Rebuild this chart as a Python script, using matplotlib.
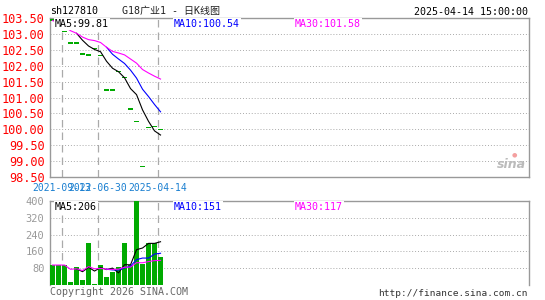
import numpy as np
from matplotlib import pyplot as plt

# daily K-line for sh127810
closes = [103.42, 103.25, 103.05, 102.68, 102.68, 102.34, 102.29, 102.52, 102.30, 101.21,
          101.21, 101.79, 101.60, 100.61, 100.22, 98.81, 100.03, 100.06, 99.97]
opens = [103.42, 103.25, 103.05, 102.68, 102.68, 102.34, 102.38, 102.52, 102.30, 101.21,
         101.21, 101.79, 101.60, 100.61, 100.22, 98.81, 100.03, 100.06, 99.97]
ma5 = [None, None, None, None, 103.02, 102.80, 102.62, 102.51, 102.44, 102.14,
       101.92, 101.81, 101.62, 101.28, 101.09, 100.61, 100.25, 99.95, 99.82]
ma10 = [None] * 9 + [102.58, 102.36, 102.21, 102.07, 101.86, 101.61, 101.26, 101.03, 100.78, 100.55]
ma30 = [103.42, 103.34, 103.24, 103.10, 103.02, 102.90, 102.82, 102.79, 102.73, 102.58,
        102.45, 102.40, 102.34, 102.21, 102.08, 101.88, 101.77, 101.67, 101.58]

volumes = [95, 95, 95, 14, 88, 25, 200, 5, 97, 40, 60, 88, 198, 95, 400, 100, 198, 198, 134]
vol_ma5 = [None, None, None, None, 77.4, 63.4, 84.4, 66.4, 83.0, 73.4,
           80.4, 58.0, 96.6, 96.2, 168.2, 176.2, 198.2, 198.2, 206.0]
vol_ma10 = [None] * 9 + [75.4, 71.9, 71.2, 81.5, 89.6, 120.8, 128.3, 128.1, 147.4, 151.1]
vol_ma30 = [95, 95, 95, 74.8, 77.4, 68.7, 87.4, 77.1, 79.3, 75.4,
            74.0, 75.2, 84.6, 85.4, 106.3, 105.9, 111.4, 116.2, 117.1]

date_idx = [2, 8, 18]
date_labels = ['2021-09-13', '2022-06-30', '2025-04-14']
price_ticks = [98.5, 99.0, 99.5, 100.0, 100.5, 101.0, 101.5, 102.0, 102.5, 103.0, 103.5]
vol_ticks = [80, 160, 240, 320, 400]

W, H = 545, 300
GREEN = '#00aa00'
GRID = '#aaaaaa'
MONO = 'DejaVu Sans Mono'


def box(l, t, r, b):
    return [l / W, 1 - b / H, (r - l) / W, (b - t) / H]


def fig_xy(x, y):
    return x / W, 1 - y / H


fig = plt.figure(figsize=(W / 100, H / 100), dpi=100)
ax = fig.add_axes(box(50, 18, 529, 177))
axv = fig.add_axes(box(50, 201, 529, 285))

x = np.arange(len(closes))
xlim = (-0.42, 79.4)

# price panel
lo = np.minimum(opens, closes)
hi = np.maximum(opens, closes)
ax.bar(x, np.maximum(hi - lo, 0.05), bottom=lo, width=0.8, color=GREEN, zorder=3)


def line(a, vals, color):
    v = np.array([np.nan if q is None else q for q in vals], dtype=float)
    a.plot(x, v, color=color, lw=0.8, zorder=4)


line(ax, ma5, 'black')
line(ax, ma10, '#0000ff')
line(ax, ma30, '#ff00ff')

ax.set_xlim(*xlim)
ax.set_ylim(98.5, 103.5)
ax.set_yticks(price_ticks)
ax.set_yticklabels(['%.2f' % t for t in price_ticks], color='red', fontfamily=MONO, fontsize=8.6)
for t in price_ticks[1:-1]:
    ax.axhline(t, color=GRID, ls=(0, (1, 2)), lw=0.7, zorder=1)
for i in date_idx:
    ax.axvline(i - 0.4, color=GRID, ls=(0, (6, 4)), lw=0.9, zorder=1)
    axv.axvline(i - 0.4, color=GRID, ls=(0, (6, 4)), lw=0.9, zorder=1)
ax.set_xticks([i - 0.4 for i in date_idx])
ax.set_xticklabels(date_labels, color='#1a7fd0', fontfamily=MONO, fontsize=7)
ax.tick_params(length=0, pad=4)

# volume panel
axv.bar(x, volumes, width=0.8, color=GREEN, zorder=3)
line(axv, vol_ma5, 'black')
line(axv, vol_ma10, '#0000ff')
line(axv, vol_ma30, '#ff00ff')
axv.set_xlim(*xlim)
axv.set_ylim(0, 400)
axv.set_yticks(vol_ticks)
axv.set_yticklabels([str(t) for t in vol_ticks], color='#999999', fontfamily=MONO, fontsize=7.5)
for t in vol_ticks[:-1]:
    axv.axhline(t, color=GRID, ls=(0, (1, 2)), lw=0.7, zorder=1)
axv.set_xticks([])
axv.tick_params(length=0, pad=4)

for a in (ax, axv):
    for s in a.spines.values():
        s.set_color('#999999')
        s.set_linewidth(1)
axv.spines['bottom'].set_visible(False)

# header texts
fig.text(*fig_xy(50, 11), 'sh127810', fontfamily=MONO, fontsize=7.2, va='center', color='black')
fig.text(*fig_xy(122, 11), 'G18广业1 - 日K线图', family=[MONO, 'Noto Sans CJK SC'],
         fontsize=7.2, va='center', color='#222222')
fig.text(*fig_xy(528, 12), '2025-04-14 15:00:00', fontfamily=MONO, fontsize=7.2,
         va='center', ha='right', color='black')

wb = dict(facecolor='white', edgecolor='none', pad=0.5)
fig.text(*fig_xy(55, 24), 'MA5:99.81', fontfamily=MONO, fontsize=7.2, va='center',
         color='black', bbox=wb, zorder=10)
fig.text(*fig_xy(174, 24), 'MA10:100.54', fontfamily=MONO, fontsize=7.2, va='center',
         color='#0000ff', bbox=wb, zorder=10)
fig.text(*fig_xy(295, 24), 'MA30:101.58', fontfamily=MONO, fontsize=7.2, va='center',
         color='#ff00ff', bbox=wb, zorder=10)

fig.text(*fig_xy(55, 207), 'MA5:206', fontfamily=MONO, fontsize=7.2, va='center',
         color='black', bbox=wb, zorder=10)
fig.text(*fig_xy(174, 207), 'MA10:151', fontfamily=MONO, fontsize=7.2, va='center',
         color='#0000ff', bbox=wb, zorder=10)
fig.text(*fig_xy(295, 207), 'MA30:117', fontfamily=MONO, fontsize=7.2, va='center',
         color='#ff00ff', bbox=wb, zorder=10)

# sina watermark
fig.text(*fig_xy(526, 165), 'sina', fontsize=9, fontweight='bold', style='italic',
         color='#bbbbbb', ha='right', va='center')
fig.text(*fig_xy(514, 155), '●', fontsize=4.5, color='#f4a0a0', ha='center', va='center')

fig.text(*fig_xy(50, 292), 'Copyright 2026 SINA.COM', fontfamily=MONO, fontsize=7.2,
         va='center', color='#666666')
fig.text(*fig_xy(528, 293), 'http://finance.sina.com.cn', fontfamily=MONO, fontsize=6.8,
         va='center', ha='right', color='#333333')

fig.savefig('out.png', dpi=100, facecolor='white')
